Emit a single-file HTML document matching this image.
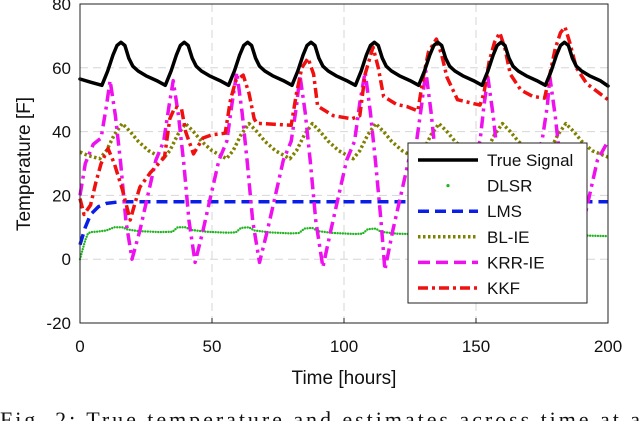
<!DOCTYPE html>
<html><head><meta charset="utf-8"><style>
html,body{margin:0;padding:0;background:#fff;width:640px;height:421px;overflow:hidden}
svg{display:block}
text{font-family:"Liberation Sans",Arial,sans-serif}
</style></head><body>
<svg id="chart" width="640" height="421" viewBox="0 0 640 421" xmlns="http://www.w3.org/2000/svg">
<g id="grid"></g>
<g id="series"></g>
<rect x="80" y="4" width="528" height="319" fill="none" stroke="#222" stroke-width="1"/>
<g id="ticks"></g>
<text x="344" y="384" font-size="19" text-anchor="middle" fill="#111">Time [hours]</text>
<text transform="translate(30,164) rotate(-90)" font-size="19" text-anchor="middle" fill="#111">Temperature [F]</text>
<g id="legend">
<rect x="408" y="143" width="179" height="160" fill="#fff" stroke="#222" stroke-width="1"/>
</g>
<text x="0" y="427" font-size="22" textLength="640" lengthAdjust="spacing" style="font-family:'Liberation Serif',serif" fill="#111">Fig. 2: True temperature and estimates across time at a</text>
</svg>
<script>
const xTicks=[0,50,100,150,200];
const yTicks=[-20,0,20,40,60,80];
const trueT=[0,4,8.3,10.5,12.5,14,15.5,17,18.5,20,22,25,29,32.3,34.5,36.5,38,39.5,41,42.5,44,46,49,53,56.3,58.5,60.5,62,63.5,65,66.5,68,70,73,77,80.3,82.5,84.5,86,87.5,89,90.5,92,94,97,101,104.3,106.5,108.5,110,111.5,113,114.5,116,118,121,125,128.3,130.5,132.5,134,135.5,137,138.5,140,142,145,149,152.3,154.5,156.5,158,159.5,161,162.5,164,166,169,173,176.3,178.5,180.5,182,183.5,185,186.5,188,190,193,197,200];
const trueV=[56.5,55.5,54.5,59,64,67,68,67,63,60.5,59,57.5,56,54.5,59,64,67,68,67,63,60.5,59,57.5,56,54.5,59,64,67,68,67,63,60.5,59,57.5,56,54.5,59,64,67,68,67,63,60.5,59,57.5,56,54.5,59,64,67,68,67,63,60.5,59,57.5,56,54.5,59,64,67,68,67,63,60.5,59,57.5,56,54.5,59,64,67,68,67,63,60.5,59,57.5,56,54.5,59,64,67,68,67,63,60.5,59,57.5,56,54.3];
const dlsrT=[0,1,2,3,4,6,10,13,16,18,22,30,35,37,40,42,48,56,59,61,64,66,72,80,83,85,88,90,96,104,107,109,112,114,120,128,131,133,136,138,144,152,155,157,160,162,168,176,179,181,184,186,192,200];
const dlsrV=[0,3,6,8,8.5,8.6,9,10,10,9.3,8.8,8.5,8.6,10,10,9.2,8.6,8.3,8.4,9.8,10,9,8.4,8.1,8.2,9.6,9.8,8.8,8.2,7.9,8,9.4,9.6,8.6,8,7.8,7.9,9.2,9.4,8.4,7.8,7.6,7.7,9,9.2,8.2,7.6,7.4,7.5,8.8,9,8,7.4,7.2];
const lmsT=[0,2,4,7,10,15,200];
const lmsV=[4.5,10,14,16.5,17.5,18,18];
const blT=[0,3,7.5,10,13,16,19,22,26,31.5,34,37,40,43,46,50,55.5,58,61,64,67,70,74,79.5,82,85,88,91,94,98,103.5,106,109,112,115,118,122,127.5,130,133,136,139,142,146,151.5,154,157,160,163,166,170,175.5,178,181,184,187,190,194,200];
const blV=[33.6,32.5,31.5,34,39,42.5,40,37,34,31.5,34,39,42.5,40,37,34,31.5,34,39,42.5,40,37,34,31.5,34,39,42.5,40,37,34,31.5,34,39,42.5,40,37,34,31.5,34,39,42.5,40,37,34,31.5,34,39,42.5,40,37,34,31.5,34,39,42.5,40,37,34,32];
const krrT=[0,2,5,8,10,11.4,13.4,15.4,17.4,19.7,22.7,25.7,28.7,31.7,33.7,35.3,37.3,39.3,41.3,43.6,46.6,49.6,52.6,55.6,57.6,59.4,61.4,63.4,65.4,68,71,74,77,80,82,83.3,85.3,87.3,89.3,92,95,98,101,104,106,108,110,112,114,115.5,118.5,121.5,124.5,127.5,129.5,131,133,135,137,139.5,142.5,145.5,148.5,151.5,153,154.5,156.5,158.5,160.5,163,166,169,172,175,177,178,180,182,184,187,190,193,196,200];
const krrV=[20,30,36,38,48,56,45,30,12,0,9,20,31,37,48,56,45,30,12,-1,9,20,31,37,49,58.6,46,30,12,-1,9,20,31,37,48,57.7,46,30,12,-2.5,9,20,31,37,49,58.7,46,30,12,-3.4,9,20,31,37,49,59,46,30,12,-1,9,20,31,37,48,57,45,30,12,-1,9,20,31,37,48,57,45,30,12,-1,9,20,31,37];
const kkfT=[0,1.5,4,6,8,10.6,13,16,19,21,22.7,26.5,32,34,36,38.5,40,43,46.6,50,55,57,59,61.8,64,66,67,80,82,84,86.4,88.5,90,96,103,106,108,111,113,115,120,124,128,130,132,135,137,139,143,151.5,153,155,157,159,161,163,167,171.6,176,178,180,182,183.7,185.5,188,192,200];
const kkfV=[19,14,17,24,30,34.7,30,22,12.3,18,22.6,27,32,44,47.7,47,40,33,38,39,39.5,50,56,57.7,52,44,42.6,42,52,60,63,58,48,45,44,45,58,66.5,60,51,48.5,47.8,46.5,57,65,69,64,57,50,48.3,52,62,68,71,66,58,53,51,50.5,58,66,71,72.8,68,60,55,50];
const legendNames=["True Signal","DLSR","LMS","BL-IE","KRR-IE","KKF"];

const NS="http://www.w3.org/2000/svg";
const X0=80,X1=608,Y0=323,Y1=4;
function sx(t){return X0+(t-0)/(200-0)*(X1-X0);}
function sy(v){return Y0-(v-(-20))/(80-(-20))*(Y0-Y1);}
function mk(tag,attrs,parent){const e=document.createElementNS(NS,tag);for(const k in attrs)e.setAttribute(k,attrs[k]);parent.appendChild(e);return e;}
const grid=document.getElementById('grid'),ticks=document.getElementById('ticks'),ser=document.getElementById('series'),leg=document.getElementById('legend');
xTicks.forEach(t=>{
  if(t>0&&t<200){const g=mk('line',{x1:sx(t),x2:sx(t),y1:Y1,y2:Y0,stroke:'#d6d6d6','stroke-dasharray':'8 5','stroke-width':1},grid);
  
  }
  const tk=mk('line',{x1:sx(t),x2:sx(t),y1:Y0,y2:Y0-5,stroke:'#222'},ticks);
  
  
  const lb=mk('text',{x:sx(t),y:352,'font-size':17,'text-anchor':'middle',fill:'#111'},ticks);lb.textContent=t;
  
  
});
yTicks.forEach(v=>{
  if(v>-20&&v<80){const g=mk('line',{x1:X0,x2:X1,y1:sy(v),y2:sy(v),stroke:'#d6d6d6','stroke-dasharray':'8 5','stroke-width':1},grid);
  
  }
  const lb=mk('text',{x:71,y:sy(v)+6,'font-size':17,'text-anchor':'end',fill:'#111'},ticks);lb.textContent=v;
  
  
});
const styles=[
 {c:'#000',w:3.5,d:'',cap:'round'},
 {c:'#1fb51f',w:2.4,d:'0 2.6',cap:'round'},
 {c:'#0a1ee8',w:3.5,d:'11 6',cap:'butt'},
 {c:'#808000',w:3.5,d:'2.5 2.5',cap:'butt'},
 {c:'#ee10ee',w:3.5,d:'12 5 3 5',cap:'butt'},
 {c:'#f01010',w:3.5,d:'10 4 3 4',cap:'butt'}];
const series=[[trueT,trueV],[dlsrT,dlsrV],[lmsT,lmsV],[blT,blV],[krrT,krrV],[kkfT,kkfV]];
const names=['true-signal-line','dlsr-line','lms-line','bl-ie-line','krr-ie-line','kkf-line'];
[1,2,3,4,5,0].forEach(i=>{
  const [T,V]=series[i],s=styles[i];
  const pts=T.map((t,j)=>sx(t).toFixed(1)+','+sy(V[j]).toFixed(1)).join(' ');
  const p=mk('polyline',{points:pts,fill:'none',stroke:s.c,'stroke-width':s.w,'stroke-linejoin':'round','stroke-linecap':s.cap},ser);
  if(s.d)p.setAttribute('stroke-dasharray',s.d);
  
  
});
const legDash=['','', '11 6','2.5 2.5','12 6','10 4 3 4'];
legendNames.forEach((n,i)=>{
  const y=160+i*25.6,s=styles[i];
  if(i===1){const d=mk('circle',{cx:448,cy:y,r:1.6,fill:s.c},leg);
    
    }
  else{const l=mk('line',{x1:418,x2:478,y1:y,y2:y,stroke:s.c,'stroke-width':s.w},leg);
    if(legDash[i])l.setAttribute('stroke-dasharray',legDash[i]);
    
    }
  const t=mk('text',{x:487,y:y+6,'font-size':17,fill:'#111'},leg);t.textContent=n;
  
  
});
</script>
</body></html>
